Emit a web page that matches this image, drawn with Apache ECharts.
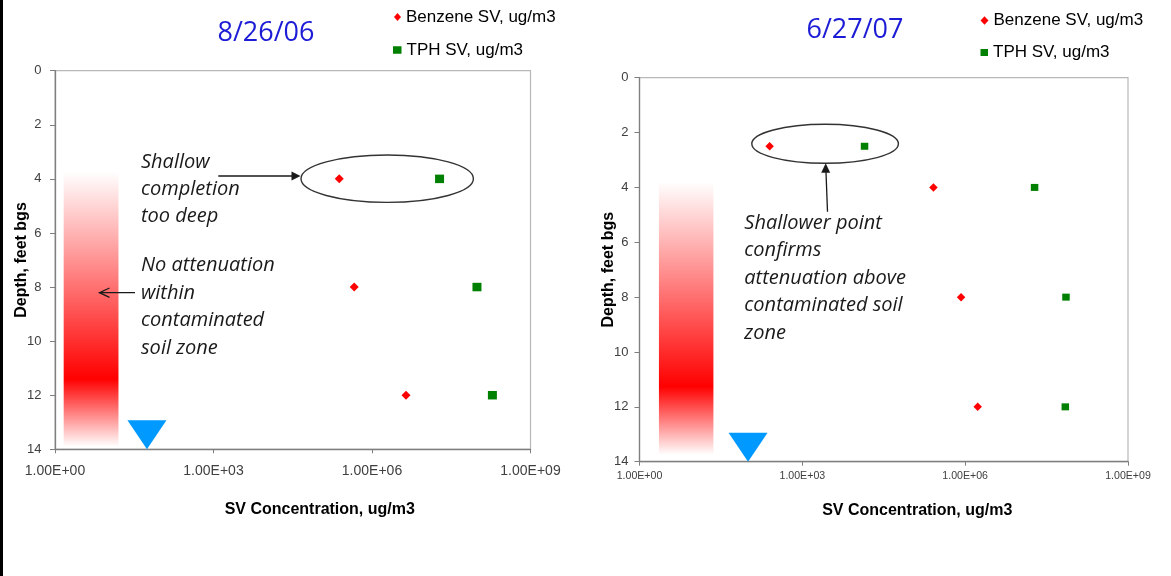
<!DOCTYPE html>
<html>
<head>
<meta charset="utf-8">
<script src="https://cdn.jsdelivr.net/npm/echarts@6/dist/echarts.min.js"></script>
<style>
  html, body { margin: 0; padding: 0; background: #fff; }
  #chart { width: 1171px; height: 576px; }
</style>
</head>
<body>
<div id="chart"></div>
<script>
const SERIES_BENZENE = 'Benzene SV, ug/m3';
const SERIES_TPH = 'TPH SV, ug/m3';

// 8/26/06 soil-vapour profile (depth in feet bgs, concentration in ug/m3)
const depths2006 = [4, 8, 12];
const benzene2006 = [2.4e5, 4.6e5, 4.4e6];
const tph2006 = [1.9e7, 9.7e7, 1.9e8];

// 6/27/07 profile, including the added shallow probe at 2.5 ft
const depths2007 = [2.5, 4, 8, 12];
const benzene2007 = [250, 2.6e5, 8.4e5, 1.7e6];
const tph2007 = [1.4e4, 1.9e7, 7.2e7, 7.0e7];

// contaminated soil zone band: [concFrom, concTo, depthTop, depthBottom, depthOfPeak]
const soilZone2006 = [1.46, 15.9, 3.74, 13.9, 11.4];
const soilZone2007 = [2.28, 23, 3.79, 13.75, 11.26];

// water table marker: [conc, depth]
const waterTable2006 = [55, 14];
const waterTable2007 = [100, 14];

// axis tick labels
const concTickLabels = ['1.00E+00', '1.00E+03', '1.00E+06', '1.00E+09'];
const depthMin = 0, depthMax = 14, depthStep = 2;

const pairs = (xs, ys) => xs.map((x, i) => [x, ys[i]]);

const chart = echarts.init(document.getElementById('chart'), null, { renderer: 'canvas' });

const ARIAL = '"Liberation Sans", Arial, sans-serif';
const NOTE_FONT = '"Open Sans", Lato, sans-serif';

function zoneGradient(zone) {
  const peak = (zone[4] - zone[2]) / (zone[3] - zone[2]);
  return new echarts.graphic.LinearGradient(0, 0, 0, 1, [
    { offset: 0, color: '#ffffff' },
    { offset: peak, color: '#ff0000' },
    { offset: 1, color: '#ffffff' }
  ]);
}

function zoneSeries(idx, zone) {
  return {
    type: 'custom',
    xAxisIndex: idx, yAxisIndex: idx,
    silent: true, z: 1,
    encode: { x: [0, 1], y: [2, 3] },
    data: [zone],
    renderItem: (params, api) => {
      const p1 = api.coord([api.value(0), api.value(2)]);
      const p2 = api.coord([api.value(1), api.value(3)]);
      return {
        type: 'rect',
        shape: { x: p1[0], y: p1[1], width: p2[0] - p1[0], height: p2[1] - p1[1] },
        style: { fill: zoneGradient(zone) }
      };
    }
  };
}

function waterSeries(idx, pt) {
  return {
    type: 'scatter', name: 'water table',
    xAxisIndex: idx, yAxisIndex: idx,
    silent: true, z: 3,
    symbol: 'triangle', symbolRotate: 180,
    symbolSize: [39, 29], symbolOffset: [0, -14.5],
    itemStyle: { color: '#0099ff', opacity: 1 },
    data: [pt]
  };
}

function xAxisCfg(idx, labelSize, margin, gap, shift) {
  return {
    gridIndex: idx, type: 'log', logBase: 10, min: 1, max: 1e9, interval: 3,
    name: 'SV Concentration, ug/m3', nameLocation: 'middle', nameGap: gap,
    nameMoveOverlap: false,
    nameTextStyle: { fontFamily: ARIAL, fontSize: 16, fontWeight: 'bold', color: '#000', padding: [0, 0, 0, shift] },
    axisLine: { show: true, onZero: false, lineStyle: { color: '#7f7f7f', width: 1.3 } },
    axisTick: { show: true, length: 4, inside: false, lineStyle: { color: '#7f7f7f' } },
    minorTick: { show: false },
    splitLine: { show: false },
    axisLabel: {
      fontFamily: ARIAL, fontSize: labelSize, color: '#404040', margin: margin,
      formatter: v => concTickLabels[Math.round(Math.log10(v) / 3)] || ''
    }
  };
}

function yAxisCfg(idx, margin, gap) {
  return {
    gridIndex: idx, type: 'value', inverse: true,
    min: depthMin, max: depthMax, interval: depthStep,
    name: 'Depth, feet bgs', nameLocation: 'middle', nameGap: gap, nameRotate: 90,
    nameMoveOverlap: false,
    nameTextStyle: { fontFamily: ARIAL, fontSize: 16, fontWeight: 'bold', color: '#000' },
    axisLine: { show: true, onZero: false, lineStyle: { color: '#7f7f7f', width: 1.3 } },
    axisTick: { show: true, length: 5, lineStyle: { color: '#7f7f7f' } },
    splitLine: { show: false },
    axisLabel: { fontFamily: ARIAL, fontSize: 13, color: '#404040', margin: margin }
  };
}

function legendCfg(name, icon, left, top, w, h) {
  return {
    data: [{ name: name, icon: icon }],
    left: left, top: top, orient: 'vertical', padding: 0,
    itemWidth: w, itemHeight: h, selectedMode: false,
    textStyle: { fontFamily: ARIAL, fontSize: 17, color: '#000' }
  };
}

const lineColor = '#1a1a1a';
const noteColor = '#1a1a1a';

const option = {
  backgroundColor: '#ffffff',
  animation: false,
  title: [
    { text: '8/26/06', left: 266, top: 20, textAlign: 'center', padding: 0,
      textStyle: { fontFamily: NOTE_FONT, fontSize: 27, fontWeight: 'normal', color: '#1c1cd6' } },
    { text: '6/27/07', left: 855, top: 17, textAlign: 'center', padding: 0,
      textStyle: { fontFamily: NOTE_FONT, fontSize: 27, fontWeight: 'normal', color: '#1c1cd6' } }
  ],
  legend: [
    legendCfg(SERIES_BENZENE, 'diamond', 394, 8.5, 7, 8),
    legendCfg(SERIES_TPH, 'rect', 393, 41.5, 8.5, 7.5),
    legendCfg(SERIES_BENZENE, 'diamond', 980.5, 12, 8, 8.5),
    legendCfg(SERIES_TPH, 'rect', 980.5, 44, 7.5, 7)
  ],
  grid: [
    { left: 55, top: 70.7, width: 475.5, height: 378.6, show: true, borderColor: '#b8b8b8', borderWidth: 1.2, backgroundColor: 'transparent' },
    { left: 639.5, top: 77.7, width: 488.5, height: 384, show: true, borderColor: '#b8b8b8', borderWidth: 1.2, backgroundColor: 'transparent' }
  ],
  xAxis: [
    xAxisCfg(0, 14, 15, 52, 54),
    xAxisCfg(1, 10.6, 9, 40.5, 67)
  ],
  yAxis: [
    yAxisCfg(0, 13.5, 25.5),
    yAxisCfg(1, 11, 22.5)
  ],
  series: [
    zoneSeries(0, soilZone2006),
    zoneSeries(1, soilZone2007),
    waterSeries(0, waterTable2006),
    waterSeries(1, waterTable2007),
    { type: 'scatter', name: SERIES_BENZENE, xAxisIndex: 0, yAxisIndex: 0, z: 4,
      symbol: 'diamond', symbolSize: [9, 9], itemStyle: { color: '#ff0000', opacity: 1 },
      data: pairs(benzene2006, depths2006) },
    { type: 'scatter', name: SERIES_TPH, xAxisIndex: 0, yAxisIndex: 0, z: 4,
      symbol: 'rect', symbolSize: [9, 8.5], itemStyle: { color: '#008000', opacity: 1 },
      data: pairs(tph2006, depths2006) },
    { type: 'scatter', name: SERIES_BENZENE, xAxisIndex: 1, yAxisIndex: 1, z: 4,
      symbol: 'diamond', symbolSize: [8.5, 8.5], itemStyle: { color: '#ff0000', opacity: 1 },
      data: pairs(benzene2007, depths2007) },
    { type: 'scatter', name: SERIES_TPH, xAxisIndex: 1, yAxisIndex: 1, z: 4,
      symbol: 'rect', symbolSize: [7.5, 7], itemStyle: { color: '#008000', opacity: 1 },
      data: pairs(tph2007, depths2007) }
  ],
  graphic: [
    // slide edge
    { type: 'rect', left: 0, top: 0, shape: { width: 3, height: 576 }, style: { fill: '#000' }, silent: true },

    // 8/26/06 annotations
    { type: 'ellipse', shape: { cx: 387.2, cy: 178.7, rx: 86.2, ry: 23.7 },
      style: { fill: 'none', stroke: '#333', lineWidth: 1.4 }, z: 10, silent: true },
    { type: 'line', shape: { x1: 218.3, y1: 176, x2: 292, y2: 176 },
      style: { stroke: lineColor, lineWidth: 1.3 }, z: 10, silent: true },
    { type: 'polygon', shape: { points: [[300.5, 176], [291.5, 171.5], [291.5, 180.5]] },
      style: { fill: lineColor }, z: 10, silent: true },
    { type: 'text', x: 141, y: 148.5, z: 10, silent: true,
      style: { text: 'Shallow\ncompletion\ntoo deep', fontFamily: NOTE_FONT, fontStyle: 'italic',
               fontSize: 20, lineHeight: 27, fill: noteColor, verticalAlign: 'top' } },
    { type: 'text', x: 141, y: 252, z: 10, silent: true,
      style: { text: 'No attenuation\nwithin\ncontaminated\nsoil zone', fontFamily: NOTE_FONT, fontStyle: 'italic',
               fontSize: 20, lineHeight: 27.4, fill: noteColor, verticalAlign: 'top' } },
    { type: 'line', shape: { x1: 135, y1: 292.7, x2: 99.5, y2: 292.7 },
      style: { stroke: lineColor, lineWidth: 1.3 }, z: 10, silent: true },
    { type: 'polyline', shape: { points: [[109.5, 288], [99.5, 292.7], [109.5, 297.4]] },
      style: { stroke: lineColor, lineWidth: 1.3, fill: 'none' }, z: 10, silent: true },

    // 6/27/07 annotations
    { type: 'ellipse', shape: { cx: 825.1, cy: 143.8, rx: 73.3, ry: 19.5 },
      style: { fill: 'none', stroke: '#333', lineWidth: 1.4 }, z: 10, silent: true },
    { type: 'line', shape: { x1: 827.5, y1: 211.7, x2: 826, y2: 172 },
      style: { stroke: lineColor, lineWidth: 1.3 }, z: 10, silent: true },
    { type: 'polygon', shape: { points: [[825.7, 163.3], [821.2, 172.7], [830.2, 172.7]] },
      style: { fill: lineColor }, z: 10, silent: true },
    { type: 'text', x: 744.3, y: 209.5, z: 10, silent: true,
      style: { text: 'Shallower point\nconfirms\nattenuation above\ncontaminated soil\nzone', fontFamily: NOTE_FONT, fontStyle: 'italic',
               fontSize: 20, lineHeight: 27.4, fill: noteColor, verticalAlign: 'top' } }
  ]
};

chart.setOption(option);
</script>
</body>
</html>
